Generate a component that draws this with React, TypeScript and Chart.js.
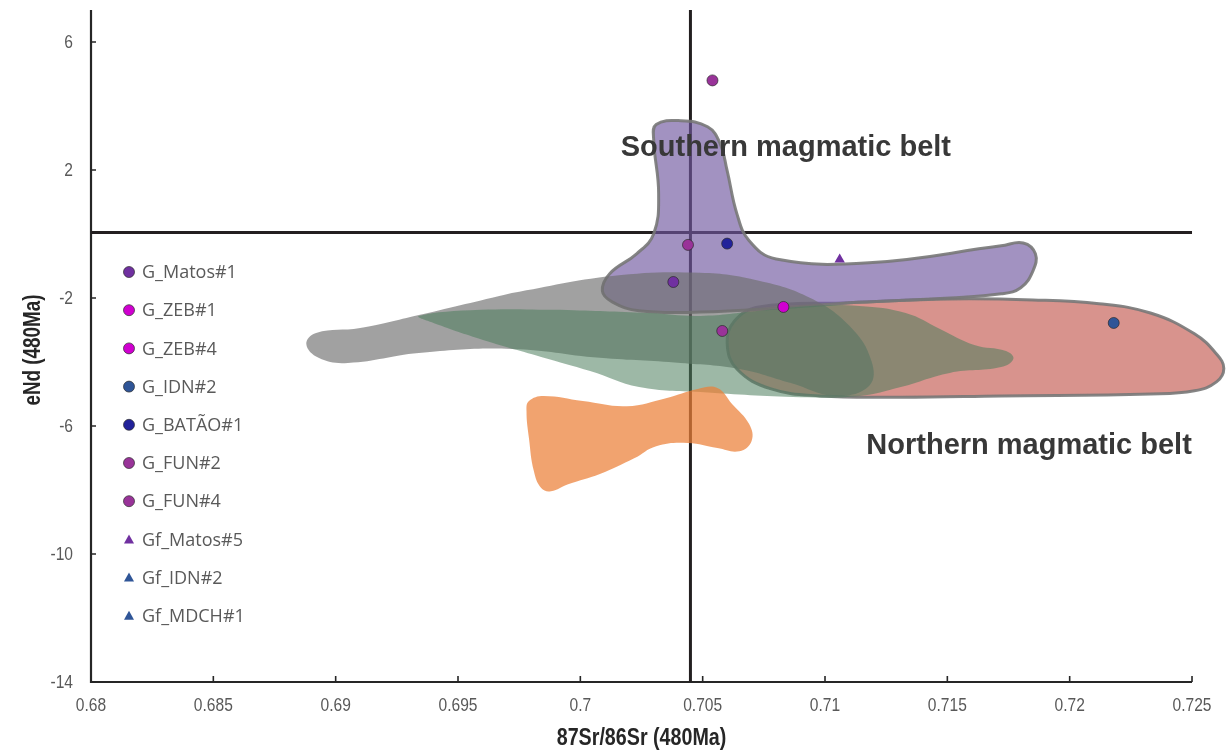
import React, { useEffect, useRef } from "react";
import { Chart, registerables } from "chart.js";

Chart.register(...registerables);

// ---------- axes ----------
const X_MIN = 0.68;
const X_AXIS_END = 0.725;
const X_MAX = 0.72643; // canvas runs a little past the axis end so the Northern field can overflow
const Y_MIN = -14;
const Y_MAX = 7;
const xTickValues = [0.68, 0.685, 0.69, 0.695, 0.7, 0.705, 0.71, 0.715, 0.72, 0.725];
const xTickLabels = ["0.68", "0.685", "0.69", "0.695", "0.7", "0.705", "0.71", "0.715", "0.72", "0.725"];
const yTickValues = [-14, -10, -6, -2, 2, 6];
const yTickLabels = ["-14", "-10", "-6", "-2", "2", "6"];
const xTitle = "87Sr/86Sr (480Ma)";
const yTitle = "eNd (480Ma)";

// ---------- reference lines ----------
const srReference = 0.7045;
const ndReference = 0.05;

// ---------- compositional fields (87Sr/86Sr, eNd outlines) ----------
const southernBelt: [number, number][] = [
  [0.711, -2.15], [0.7082, -2.31], [0.7049, -2.44], [0.7024, -2.4], [0.7013, -2.12],
  [0.7009, -1.78], [0.7012, -1.24], [0.7023, -0.62], [0.703, 0.01], [0.7032, 1.26],
  [0.703, 2.92], [0.7031, 3.42], [0.7041, 3.54], [0.7052, 3.35], [0.7057, 2.85],
  [0.706, 1.98], [0.7064, 0.63], [0.7069, -0.21], [0.708, -0.78], [0.7118, -0.9],
  [0.7172, -0.37], [0.7181, -0.28], [0.7186, -0.62], [0.7185, -1.15], [0.718, -1.68],
  [0.7172, -1.87], [0.7151, -2.0],
];

const northernBelt: [number, number][] = [
  [0.711, -2.15], [0.7151, -2.03], [0.7185, -2.06], [0.7212, -2.18], [0.7233, -2.47],
  [0.7251, -3.12], [0.726, -3.75], [0.7263, -4.2], [0.726, -4.62], [0.7251, -4.9],
  [0.7233, -5.0], [0.7172, -5.06], [0.7131, -5.1], [0.7098, -5.06], [0.7078, -4.84],
  [0.7064, -4.22], [0.706, -3.41], [0.7063, -2.72], [0.7073, -2.28],
];

const greyField: [number, number][] = [
  [0.6972, -1.84], [0.7013, -1.31], [0.7049, -1.21], [0.7073, -1.46], [0.7094, -2.0],
  [0.711, -2.87], [0.7119, -3.97], [0.7118, -4.75], [0.7104, -5.06], [0.7086, -4.66],
  [0.7065, -4.22], [0.7041, -4.03], [0.7008, -3.87], [0.6972, -3.59], [0.6934, -3.72],
  [0.6905, -4.03], [0.6893, -3.87], [0.6888, -3.44], [0.6892, -3.09], [0.691, -2.94],
  [0.6934, -2.53],
];

const greenField: [number, number][] = [
  [0.6992, -2.37], [0.7028, -2.47], [0.7049, -2.56], [0.7073, -2.4], [0.7094, -2.25],
  [0.7114, -2.25], [0.7133, -2.47], [0.7147, -2.97], [0.7161, -3.47], [0.7174, -3.66],
  [0.7177, -3.9], [0.7172, -4.16], [0.7151, -4.34], [0.7131, -4.78], [0.7114, -5.06],
  [0.709, -5.1], [0.7049, -4.94], [0.7024, -4.78], [0.7004, -4.28], [0.6984, -3.84],
  [0.6959, -3.28], [0.6939, -2.75], [0.6934, -2.56], [0.6959, -2.37],
];

const orangeField: [number, number][] = [
  [0.7001, -5.22], [0.7019, -5.38], [0.7035, -5.13], [0.7048, -4.84], [0.7056, -4.81],
  [0.7062, -5.31], [0.7069, -5.94], [0.707, -6.47], [0.7065, -6.79], [0.7056, -6.69],
  [0.7044, -6.53], [0.7031, -6.63], [0.7022, -7.01], [0.7008, -7.5], [0.6995, -7.82],
  [0.6988, -8.04], [0.6984, -7.94], [0.6981, -7.41], [0.6979, -6.38], [0.6978, -5.53],
  [0.6979, -5.22], [0.6985, -5.06],
];

// ---------- samples ----------
const gMatos1: [number, number][] = [[0.7038, -1.5]];
const gZeb1: [number, number][] = [[0.7083, -2.28]];
const gZeb4: [number, number][] = [];
const gIdn2: [number, number][] = [[0.7218, -2.78]];
const gBatao1: [number, number][] = [[0.706, -0.3]];
const gFun2: [number, number][] = [[0.7054, 4.8], [0.7058, -3.03]];
const gFun4: [number, number][] = [[0.7044, -0.34]];
const gfMatos5: [number, number][] = [[0.7106, -0.8]];
const gfIdn2: [number, number][] = [];
const gfMdch1: [number, number][] = [];

// ---------- field captions ----------
const southernCaption = "Southern magmatic belt";
const northernCaption = "Northern magmatic belt";
const southernCaptionAt = { x: 0.7084, y: 2.7 };
const northernCaptionAt = { x: 0.71834, y: -6.63 };

const AXIS_FONT = "'Liberation Sans', Arial, sans-serif";
const KEY_FONT = "'Open Sans', 'Liberation Sans', sans-serif";
const CAPTION_FONT = "'Liberation Sans', Arial, sans-serif";
const NARROW = 0.82; // horizontal squeeze giving the axis text its condensed face

const pts = (arr: [number, number][]) => arr.map(([x, y]) => ({ x, y }));
const loop = (arr: [number, number][]) => pts([...arr, arr[0]]);

function fieldSet(label: string, outline: [number, number][], fillColor: string, stroke: string | null, order: number) {
  return {
    type: "line" as const,
    label,
    data: loop(outline),
    showLine: true,
    fill: "shape",
    backgroundColor: fillColor,
    borderColor: stroke || "rgba(0,0,0,0)",
    borderWidth: stroke ? 3 : 0,
    tension: 0.42,
    pointRadius: 0,
    order,
    clip: false as const,
  };
}

function sampleSet(label: string, values: [number, number][], color: string, style: string) {
  return {
    type: "scatter" as const,
    label,
    data: pts(values),
    inKey: true,
    pointStyle: style,
    pointRadius: style === "triangle" ? 6 : 5.5,
    pointBackgroundColor: color,
    pointBorderColor: style === "triangle" ? color : "rgba(40,40,40,0.85)",
    pointBorderWidth: style === "triangle" ? 0 : 0.8,
    backgroundColor: color,
    borderColor: "rgba(40,40,40,0.85)",
    order: 0,
  };
}

// scales keep the exact plot frame: no extra room for overhanging labels
const noOverhang = (scale: any) => {
  scale.paddingTop = 0;
  scale.paddingBottom = 0;
  scale.paddingLeft = 0;
  scale.paddingRight = 0;
};

function narrowText(ctx: CanvasRenderingContext2D, text: string, x: number, y: number, align: CanvasTextAlign, rotation = 0) {
  ctx.save();
  ctx.translate(x, y);
  if (rotation) ctx.rotate(rotation);
  ctx.scale(NARROW, 1);
  ctx.textAlign = align;
  ctx.textBaseline = "middle";
  ctx.fillText(text, 0, 0);
  ctx.restore();
}

// axis lines, inward tick marks, tick labels and axis titles
const axisPlugin = {
  id: "axisFrame",
  beforeDatasetsDraw(chart: any) {
    const { ctx, chartArea, scales } = chart;
    const xs = scales.x;
    const ys = scales.y;
    const x0 = chartArea.left;
    const y0 = chartArea.bottom;
    const xEnd = xs.getPixelForValue(X_AXIS_END);
    ctx.save();
    ctx.strokeStyle = "#262626";
    ctx.lineWidth = 2.2;
    ctx.beginPath();
    ctx.moveTo(x0, chartArea.top);
    ctx.lineTo(x0, y0);
    ctx.lineTo(xEnd, y0);
    ctx.stroke();
    ctx.lineWidth = 1.6;
    ctx.beginPath();
    xTickValues.forEach((v) => {
      const px = xs.getPixelForValue(v);
      ctx.moveTo(px, y0);
      ctx.lineTo(px, y0 - 6);
    });
    yTickValues.forEach((v) => {
      const py = ys.getPixelForValue(v);
      ctx.moveTo(x0, py);
      ctx.lineTo(x0 + 5, py);
    });
    ctx.stroke();

    ctx.fillStyle = "#595959";
    ctx.font = `19px ${AXIS_FONT}`;
    xTickValues.forEach((v, i) => {
      narrowText(ctx, xTickLabels[i], xs.getPixelForValue(v), y0 + 24, "center");
    });
    yTickValues.forEach((v, i) => {
      narrowText(ctx, yTickLabels[i], x0 - 18, ys.getPixelForValue(v) + 1, "right");
    });

    ctx.fillStyle = "#262626";
    ctx.font = `bold 24px ${AXIS_FONT}`;
    narrowText(ctx, xTitle, (x0 + xEnd) / 2, 738, "center");
    ctx.font = `bold 23px ${AXIS_FONT}`;
    narrowText(ctx, yTitle, 34, (chartArea.top + y0) / 2 + 4, "center", -Math.PI / 2);
    ctx.restore();
  },
};

// sample key and field captions
const keyPlugin = {
  id: "sampleKey",
  afterDatasetsDraw(chart: any) {
    const { ctx, scales } = chart;
    ctx.save();
    const items = chart.data.datasets.filter((d: any) => d.inKey);
    const keyX = 129;
    const keyY = 272;
    const step = 38.2;
    ctx.font = `18px ${KEY_FONT}`;
    ctx.textBaseline = "middle";
    ctx.textAlign = "left";
    items.forEach((d: any, i: number) => {
      const cy = keyY + i * step;
      ctx.fillStyle = d.pointBackgroundColor;
      ctx.beginPath();
      if (d.pointStyle === "triangle") {
        ctx.moveTo(keyX, cy - 5);
        ctx.lineTo(keyX + 5, cy + 4);
        ctx.lineTo(keyX - 5, cy + 4);
        ctx.closePath();
        ctx.fill();
      } else {
        ctx.arc(keyX, cy, 5.5, 0, Math.PI * 2);
        ctx.fill();
        ctx.strokeStyle = "rgba(40,40,40,0.85)";
        ctx.lineWidth = 0.8;
        ctx.stroke();
      }
      ctx.fillStyle = "#595959";
      ctx.fillText(d.label, keyX + 13, cy + 1);
    });

    ctx.font = `bold 29px ${CAPTION_FONT}`;
    ctx.fillStyle = "#383838";
    ctx.textAlign = "center";
    ctx.fillText(southernCaption, scales.x.getPixelForValue(southernCaptionAt.x), scales.y.getPixelForValue(southernCaptionAt.y));
    ctx.fillText(northernCaption, scales.x.getPixelForValue(northernCaptionAt.x), scales.y.getPixelForValue(northernCaptionAt.y));
    ctx.restore();
  },
};

export default function App() {
  const canvasRef = useRef<HTMLCanvasElement | null>(null);

  useEffect(() => {
    const canvas = canvasRef.current;
    if (!canvas) return;

    const datasets: any[] = [
      sampleSet("G_Matos#1", gMatos1, "#7030A0", "circle"),
      sampleSet("G_ZEB#1", gZeb1, "#D000D0", "circle"),
      sampleSet("G_ZEB#4", gZeb4, "#D000D0", "circle"),
      sampleSet("G_IDN#2", gIdn2, "#2F5597", "circle"),
      sampleSet("G_BATÃO#1", gBatao1, "#22229A", "circle"),
      sampleSet("G_FUN#2", gFun2, "#993399", "circle"),
      sampleSet("G_FUN#4", gFun4, "#993399", "circle"),
      sampleSet("Gf_Matos#5", gfMatos5, "#7030A0", "triangle"),
      sampleSet("Gf_IDN#2", gfIdn2, "#2F5597", "triangle"),
      sampleSet("Gf_MDCH#1", gfMdch1, "#2F5597", "triangle"),
      fieldSet("Orange field", orangeField, "rgba(236,128,56,0.72)", null, 5),
      fieldSet("Green field", greenField, "rgba(77,126,93,0.55)", null, 6),
      fieldSet("Grey field", greyField, "rgba(110,110,110,0.65)", null, 7),
      fieldSet("Southern magmatic belt", southernBelt, "rgba(112,88,160,0.65)", "rgba(120,120,120,0.9)", 8),
      fieldSet("Northern magmatic belt", northernBelt, "rgba(190,75,65,0.6)", "rgba(120,120,120,0.9)", 9),
      {
        type: "line",
        label: "Sr reference",
        data: [{ x: srReference, y: Y_MIN }, { x: srReference, y: Y_MAX }],
        showLine: true,
        borderColor: "#231F20",
        borderWidth: 3,
        pointRadius: 0,
        fill: false,
        order: 10,
      },
      {
        type: "line",
        label: "Nd reference",
        data: [{ x: X_MIN, y: ndReference }, { x: X_AXIS_END, y: ndReference }],
        showLine: true,
        borderColor: "#231F20",
        borderWidth: 3,
        pointRadius: 0,
        fill: false,
        order: 10,
      },
    ];

    const chart = new Chart(canvas, {
      type: "scatter",
      data: { datasets },
      plugins: [axisPlugin, keyPlugin],
      options: {
        animation: false,
        responsive: false,
        devicePixelRatio: 1,
        layout: { autoPadding: false, padding: { top: 10, right: 0, left: 0, bottom: 0 } },
        elements: { line: { capBezierPoints: false } },
        plugins: { legend: { display: false }, tooltip: { enabled: false } },
        scales: {
          x: {
            type: "linear",
            min: X_MIN,
            max: X_MAX,
            grid: { display: false, drawTicks: false },
            border: { display: false },
            ticks: { display: false },
            title: { display: false, text: xTitle },
            afterBuildTicks: (scale: any) => {
              scale.ticks = xTickValues.map((v) => ({ value: v }));
            },
            afterFit: (scale: any) => {
              scale.height = 69;
              noOverhang(scale);
            },
          },
          y: {
            type: "linear",
            min: Y_MIN,
            max: Y_MAX,
            grid: { display: false, drawTicks: false },
            border: { display: false },
            ticks: { display: false },
            title: { display: false, text: yTitle },
            afterBuildTicks: (scale: any) => {
              scale.ticks = yTickValues.map((v) => ({ value: v }));
            },
            afterFit: (scale: any) => {
              scale.width = 91;
              noOverhang(scale);
            },
          },
        },
      },
    });

    return () => chart.destroy();
  }, []);

  return (
    <div style={{ position: "absolute", left: 0, top: 0, width: 1227, height: 751, background: "#fff" }}>
      <canvas ref={canvasRef} width={1227} height={751} style={{ display: "block" }} />
    </div>
  );
}
